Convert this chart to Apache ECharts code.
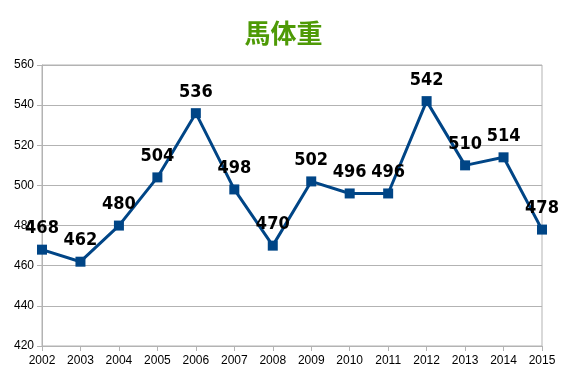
<!DOCTYPE html>
<html>
<head>
<meta charset="utf-8">
<script src="https://cdn.jsdelivr.net/npm/echarts@6/dist/echarts.min.js"></script>
<style>
  html, body { margin: 0; padding: 0; background: #fff; }
  #chart { width: 567px; height: 378px; }
</style>
</head>
<body>
<div id="chart"></div>
<script>
const years = ['2002', '2003', '2004', '2005', '2006', '2007', '2008',
  '2009', '2010', '2011', '2012', '2013', '2014', '2015']
const weights = [468, 462, 480, 504, 536, 498, 470, 502, 496, 496, 542, 510, 514, 478]

const chart = echarts.init(document.getElementById('chart'))

chart.setOption({
  animation: false,
  title: {
    text: '馬体重',
    left: 'center',
    top: 15,
    textStyle: {
      color: '#4e9a06',
      fontSize: 26,
      fontWeight: 'bold',
      fontFamily: 'Noto Sans CJK JP'
    }
  },
  grid: {
    left: 42, right: 25, top: 65, bottom: 32,
    show: true, borderColor: '#b3b3b3', borderWidth: 1
  },
  xAxis: {
    type: 'category',
    data: years,
    boundaryGap: false,
    axisLine: { lineStyle: { color: '#b3b3b3' } },
    axisTick: { show: true, length: 5, interval: 0, lineStyle: { color: '#b3b3b3' } },
    axisLabel: {
      color: '#000', fontSize: 12, fontFamily: 'Liberation Sans',
      margin: 9, interval: 0
    }
  },
  yAxis: {
    type: 'value',
    min: 420, max: 560, interval: 20,
    axisLine: { show: true, lineStyle: { color: '#b3b3b3' } },
    axisTick: { show: true, length: 5, lineStyle: { color: '#b3b3b3' } },
    axisLabel: { color: '#000', fontSize: 12, fontFamily: 'Liberation Sans', margin: 8 },
    splitLine: { lineStyle: { color: '#b3b3b3' } }
  },
  series: [{
    type: 'line',
    data: weights,
    symbol: 'rect',
    symbolSize: 10,
    lineStyle: { color: '#004586', width: 3 },
    itemStyle: { color: '#004586' },
    label: {
      show: true,
      position: 'top',
      distance: 7,
      color: '#000',
      fontSize: 18,
      fontWeight: 'bold',
      fontFamily: 'DejaVu Sans Condensed, sans-serif'
    }
  }]
})
</script>
</body>
</html>
